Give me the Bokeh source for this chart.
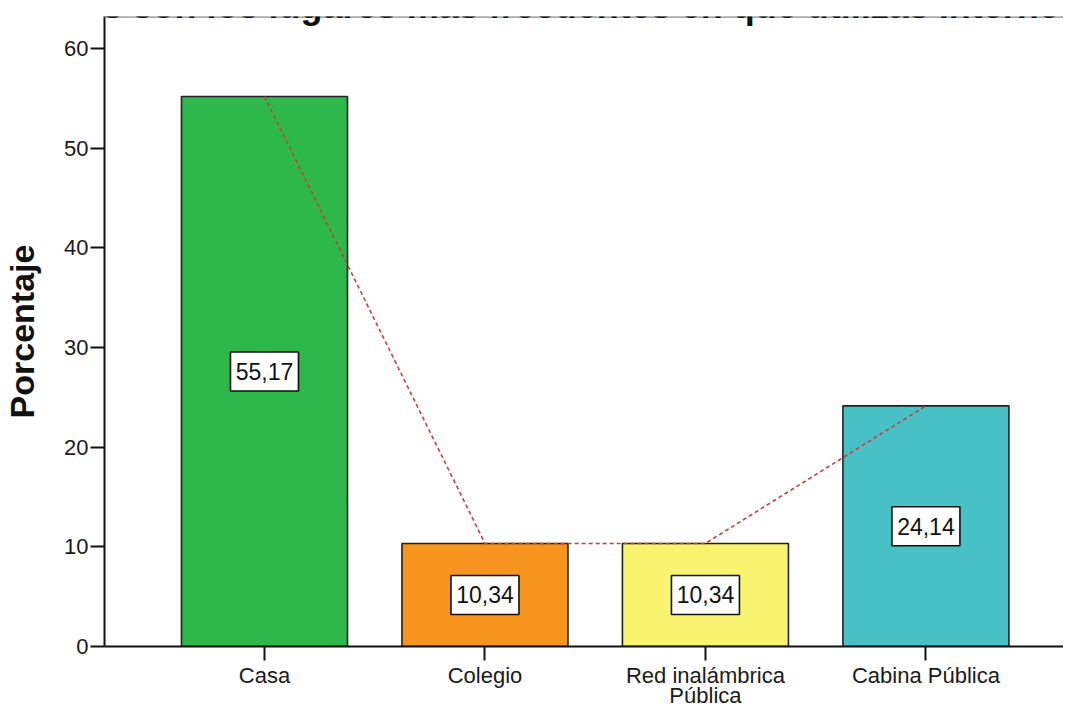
import numpy as np
from bokeh.plotting import figure
from bokeh.models import (ColumnDataSource, Range1d, FixedTicker, Span, Label)
from bokeh.core.properties import value
from bokeh.embed import file_html
from bokeh.resources import INLINE

# ---- data ----
categories = ["Casa", "Colegio", "Red inalámbrica\nPública", "Cabina Pública"]
values = [55.17, 10.34, 10.34, 24.14]
value_labels = ["55,17", "10,34", "10,34", "24,14"]
colors = ["#2eb84b", "#f7941d", "#f8f46f", "#48c1c6"]
y_ticks = [0, 10, 20, 30, 40, 50, 60]
title_text = "¿Cuáles son los lugares más frecuentes en que utilizas Internet?"
y_title = "Porcentaje"

Y_END = 63.2
PX = 630.0 / Y_END          # approx pixels per y unit

xs = np.arange(len(categories)) + 0.5
vals = np.array(values)
src = ColumnDataSource(dict(x=xs, top=vals, mid=vals / 2, lab=value_labels, color=colors))

p = figure(width=1063, height=710, output_backend="svg", toolbar_location=None,
           x_range=Range1d(-0.2256, 4.124), y_range=Range1d(0, Y_END),
           min_border_left=104, min_border_right=0, min_border_top=16, min_border_bottom=56)
p.outline_line_color = None
p.xgrid.visible = False
p.ygrid.visible = False
p.background_fill_color = "white"

p.vbar(x="x", top="top", width=0.753, source=src, fill_color="color",
       line_color="#222222", line_width=1.6)

p.line(x="x", y="top", source=src, line_color="#c4423a", line_width=1.6, line_dash="4 3")

p.rect(x="x", y="mid", width=68, height=39, width_units="screen", height_units="screen",
       source=src, fill_color="white", line_color="#111111", line_width=1.6)
p.text(x="x", y="mid", text="lab", source=src, text_align="center", text_baseline="middle",
       text_font=value("Liberation Sans"), text_font_size="23px", text_color="#111111")

top_line = Span(location=Y_END, dimension="width", line_color="#8a8a8a", line_width=2.5)
p.add_layout(top_line)

title = Label(x=-122, x_units="screen", y=Y_END + 11.5 / PX, text=title_text,
              text_font="Liberation Sans", text_font_style="bold", text_font_size="36px",
              text_color="#111111", text_baseline="alphabetic", text_align="left")
p.add_layout(title)

# axes
p.xaxis.ticker = FixedTicker(ticks=list(xs))
p.xaxis.major_label_overrides = {float(x): c for x, c in zip(xs, categories)}
p.yaxis.ticker = FixedTicker(ticks=y_ticks)
for ax in (p.xaxis, p.yaxis):
    ax.axis_line_color = "#111111"
    ax.axis_line_width = 2
    ax.major_tick_line_color = "#111111"
    ax.major_tick_line_width = 2
    ax.major_tick_out = 14
    ax.major_tick_in = 0
    ax.minor_tick_line_color = None
    ax.major_label_text_font = "Liberation Sans"
    ax.major_label_text_font_size = "22px"
    ax.major_label_text_color = "#1a1a1a"
p.xaxis.major_label_text_line_height = 0.8
p.xaxis.major_label_standoff = 2
p.yaxis.major_label_standoff = 2
p.yaxis.axis_label = y_title
p.yaxis.axis_label_text_font = "Liberation Sans"
p.yaxis.axis_label_text_font_style = "bold"
p.yaxis.axis_label_text_font_size = "34px"
p.yaxis.axis_label_text_color = "#111111"
p.yaxis.axis_label_standoff = 20

open("out.html", "w").write(file_html(p, INLINE))
